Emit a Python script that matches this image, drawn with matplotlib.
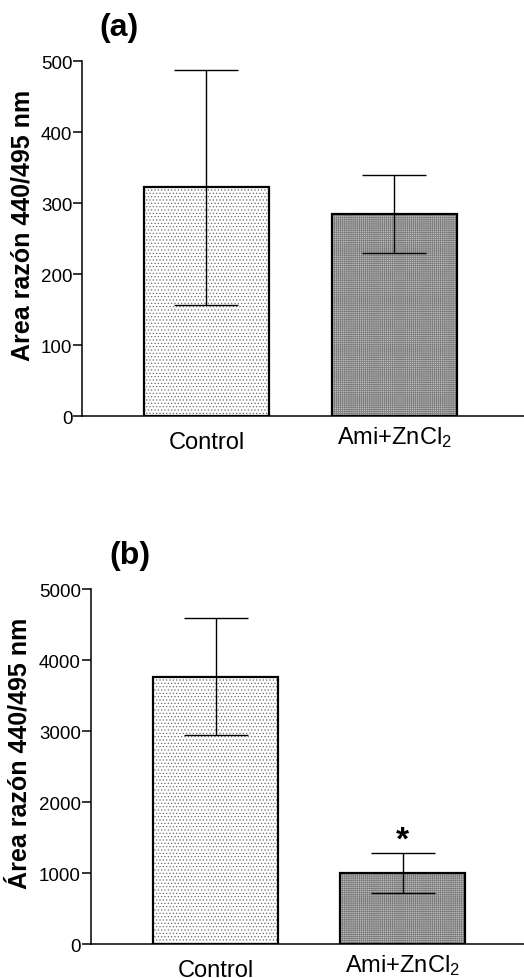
import matplotlib
matplotlib.use('Agg')
import matplotlib.pyplot as plt

plt.rcParams['font.family'] = ['Liberation Sans', 'DejaVu Sans']
plt.rcParams['hatch.linewidth'] = 0.5
plt.rcParams['mathtext.fontset'] = 'custom'
plt.rcParams['mathtext.rm'] = 'Liberation Sans'
plt.rcParams['mathtext.default'] = 'regular'

groups = ['Control', 'Ami+ZnCl$_2$']

# panel (a): mean and SEM
mean_a = [322, 285]
sem_a = [165, 55]

# panel (b): mean and SEM
mean_b = [3768, 1000]
sem_b = [824, 280]

yticks_a = [0, 100, 200, 300, 400, 500]
yticks_b = [0, 1000, 2000, 3000, 4000, 5000]

fills = ['white', '#bdbdbd']
hatches = ['.....', '++++++++']
hatch_cols = ['#6a6a6a', '#7a7a7a']


def draw_panel(ax, means, sems, yticks, xlim, star=False):
    x = range(len(means))
    # patterned fill first, then black outlines on top
    for i in x:
        ax.bar(i, means[i], width=0.665, color=fills[i], hatch=hatches[i],
               edgecolor=hatch_cols[i], linewidth=0, zorder=1)
    ax.bar(x, means, width=0.665, fill=False, edgecolor='black', linewidth=1.6, zorder=2)
    ax.errorbar(x, means, yerr=sems, fmt='none', ecolor='black', elinewidth=1.0,
                capsize=23, capthick=1.0, zorder=3)
    ax.set_xlim(*xlim)
    ax.set_ylim(0, yticks[-1])
    ax.set_yticks(yticks)
    ax.set_xticks([])
    ax.spines['top'].set_visible(False)
    ax.spines['right'].set_visible(False)
    ax.spines['left'].set_linewidth(1.1)
    ax.spines['bottom'].set_linewidth(1.1)
    ax.tick_params(axis='y', direction='out', length=6.5, width=1.1, pad=0.5, labelsize=13.5)
    offsets = [-11, -6]
    for i, g in enumerate(groups):
        ax.annotate(g, xy=(i, 0), xycoords=('data', 'axes fraction'),
                    xytext=(0, offsets[i]), textcoords='offset points',
                    ha='center', va='top', fontsize=17)
    if star:
        ax.text(1, means[1] + sems[1] - 40, '*', ha='center', va='bottom',
                fontsize=24, fontweight='bold')


fig = plt.figure(figsize=(5.24, 9.79), dpi=100)
ax1 = fig.add_axes([0.1565, 0.574, 0.8435, 0.3626])
ax2 = fig.add_axes([0.173, 0.0347, 0.827, 0.3626])

draw_panel(ax1, mean_a, sem_a, yticks_a, (-0.662, 1.689))
draw_panel(ax2, mean_b, sem_b, yticks_b, (-0.668, 1.649), star=True)

fig.text(0.042, 0.770, 'Area razón 440/495 nm', rotation=90, ha='center', va='center',
         fontsize=18, fontweight='bold')
fig.text(0.038, 0.2308, 'Área razón 440/495 nm', rotation=90, ha='center', va='center',
         fontsize=18, fontweight='bold')
fig.text(0.228, 0.9714, '(a)', ha='center', va='center', fontsize=23, fontweight='bold')
fig.text(0.248, 0.432, '(b)', ha='center', va='center', fontsize=23, fontweight='bold')

fig.savefig('out.png', dpi=100)
